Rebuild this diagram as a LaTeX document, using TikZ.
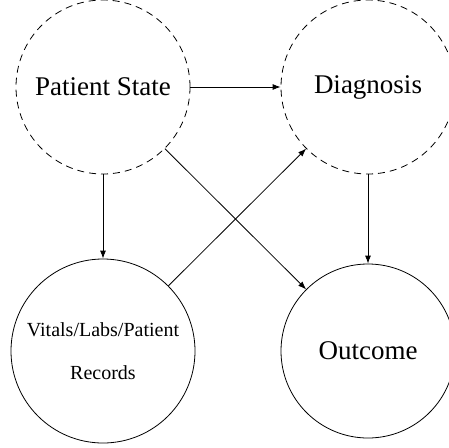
\documentclass[tikz,border=0pt]{standalone}
\usepackage{fontspec}
\setmainfont{Liberation Serif}
\usetikzlibrary{arrows.meta}
\begin{document}
\begin{tikzpicture}[x=1pt,y=-1pt,
  latent/.style={circle,draw,line width=0.8pt,dash pattern=on 7pt off 5pt,minimum size=174pt,inner sep=0pt,font=\fontsize{27}{30}\selectfont},
  observed/.style={circle,draw,line width=0.8pt,minimum size=174pt,inner sep=0pt,font=\fontsize{27}{30}\selectfont},
  edge/.style={line width=0.8pt,-{Latex[length=8pt,width=6pt]}}]
\useasboundingbox (0,0) rectangle (449,447);
\node[latent] (ps) at (103,87) {Patient State};
\node[latent] (dx) at (368,87) {Diagnosis};
\node[observed,minimum size=184pt,align=center,font=\fontsize{20}{43}\selectfont] (v) at (103,351) {Vitals/Labs/Patient\\Records};
\node[observed] (o) at (368,351) {Outcome};
\draw[edge] (ps) -- (dx);
\draw[edge] (ps) -- (v);
\draw[edge] (ps) -- (o);
\draw[edge] (v) -- (dx);
\draw[edge] (dx) -- (o);
\end{tikzpicture}
\end{document}
